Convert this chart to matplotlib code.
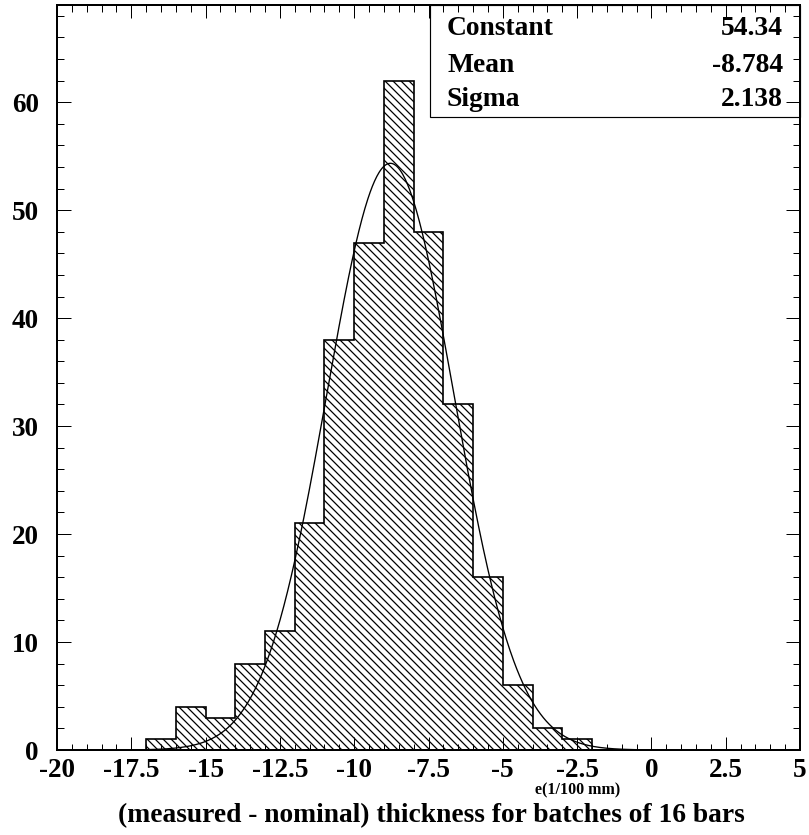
import numpy as np
import matplotlib
matplotlib.use("Agg")
import matplotlib.pyplot as plt
from matplotlib.patches import Rectangle
from matplotlib.ticker import FixedLocator, MultipleLocator

# Histogram: thickness deviation per batch, 1 unit wide bins
bin_edges = [-17, -16, -15, -14, -13, -12, -11, -10, -9, -8, -7, -6, -5, -4, -3, -2]
counts = [1, 4, 3, 8, 11, 21, 38, 47, 62, 48, 32, 16, 6, 2, 1]

# Gaussian fit parameters
fit_constant = 54.34
fit_mean = -8.784
fit_sigma = 2.138

stat_names = ["Constant", "Mean", "Sigma"]
stat_values = ["54.34", "-8.784", "2.138"]

x_ticks = [-20, -17.5, -15, -12.5, -10, -7.5, -5, -2.5, 0, 2.5, 5]
x_tick_labels = ["-20", "-17.5", "-15", "-12.5", "-10", "-7.5", "-5", "-2.5", "0", "2.5", "5"]
y_ticks = [0, 10, 20, 30, 40, 50, 60]
y_tick_labels = ["0", "10", "20", "30", "40", "50", "60"]

x_title = "(measured - nominal) thickness for batches of 16 bars"
x_unit = "e(1/100 mm)"

DPI = 120
W, H = 809, 835
plt.rcParams["font.family"] = ["Liberation Serif", "DejaVu Serif"]
plt.rcParams["font.weight"] = "bold"
plt.rcParams["hatch.linewidth"] = 0.75

fig = plt.figure(figsize=(W / DPI, H / DPI), dpi=DPI)
ax = fig.add_axes([57 / W, 1 - 750 / H, (800 - 57) / W, (750 - 5) / H])

ax.set_xlim(-20, 5)
ax.set_ylim(0, 69)

# Hatched histogram
ax.stairs(counts, bin_edges, fill=True, facecolor="none", edgecolor="black",
          hatch="\\\\\\\\\\", linewidth=1.0, zorder=2)

# Fitted Gaussian
xs = np.linspace(-20, 5, 1000)
ys = fit_constant * np.exp(-0.5 * ((xs - fit_mean) / fit_sigma) ** 2)
ax.plot(xs, ys, color="black", linewidth=0.8, zorder=3)

# Axes frame and ticks
for sp in ax.spines.values():
    sp.set_linewidth(1.2)
    sp.set_zorder(5)

ax.xaxis.set_major_locator(FixedLocator(x_ticks))
ax.xaxis.set_minor_locator(MultipleLocator(0.5))
ax.yaxis.set_major_locator(FixedLocator(y_ticks))
ax.yaxis.set_minor_locator(MultipleLocator(2))
ax.set_xticklabels(x_tick_labels)
ax.set_yticklabels(y_tick_labels)

ax.tick_params(which="both", direction="in", top=True, right=True, width=0.6, colors="black")
ax.tick_params(axis="x", which="major", length=7.8, pad=5, labelsize=16.3)
ax.tick_params(axis="x", which="minor", length=3.9)
ax.tick_params(axis="y", which="major", length=8.4, pad=11, labelsize=16.3)
ax.tick_params(axis="y", which="minor", length=4.2)
for lbl in ax.get_xticklabels() + ax.get_yticklabels():
    lbl.set_fontweight("bold")

# Fit statistics box (ticks stay visible on top of it)
box_left = (430 - 57) / (800 - 57)
box_bottom = (750 - 117) / (750 - 5)
ax.add_patch(Rectangle((box_left, box_bottom), 1 - box_left, 1 - box_bottom,
                       transform=ax.transAxes, facecolor="white", edgecolor="black",
                       linewidth=0.7, zorder=1, clip_on=False))
row_baselines = [35, 71.5, 105.5]
for name, val, yb in zip(stat_names, stat_values, row_baselines):
    yf = (750 - yb) / (750 - 5)
    ax.text((447 - 57) / (800 - 57), yf, name, transform=ax.transAxes,
            ha="left", va="baseline", fontsize=16.5, fontweight="bold", zorder=6)
    ax.text((783 - 57) / (800 - 57), yf, val, transform=ax.transAxes,
            ha="right", va="baseline", fontsize=16.5, fontweight="bold", zorder=6)

# Axis titles
fig.text(578 / W, 1 - 790 / H, x_unit, ha="center", va="center", fontsize=9.6, fontweight="bold")
fig.text(431 / W, 1 - 816 / H, x_title, ha="center", va="center", fontsize=16.5, fontweight="bold")

fig.savefig("out.png", dpi=DPI, facecolor="white")
